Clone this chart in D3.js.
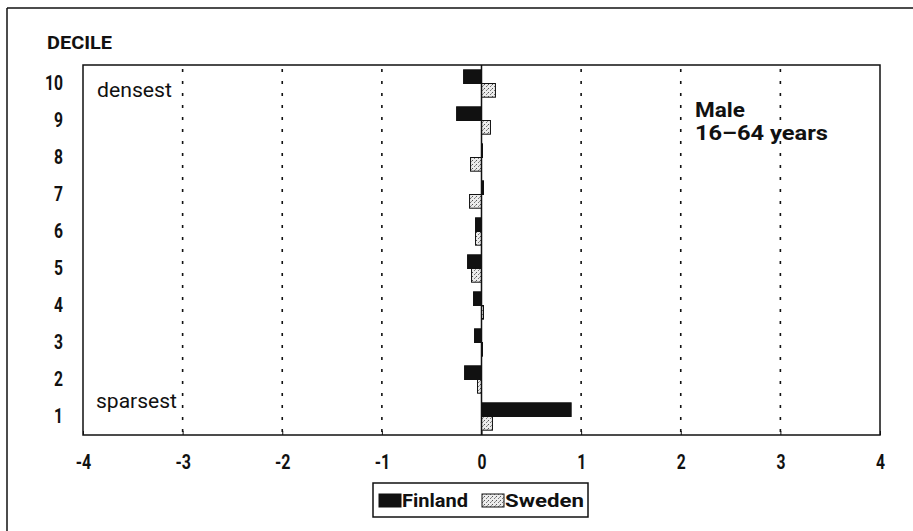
<!DOCTYPE html>
<html>
<head>
<meta charset="utf-8">
<script src="https://cdn.jsdelivr.net/npm/d3@7"></script>
<style>
  html, body { margin: 0; padding: 0; background: #fff; }
  svg { display: block; }
  text { font-family: Roboto, "Liberation Sans", sans-serif; fill: #111; }
</style>
</head>
<body>
<svg id="chart" width="913" height="531"></svg>
<script>
const deciles = ["10", "9", "8", "7", "6", "5", "4", "3", "2", "1"];
const finland = [-0.18, -0.25, 0.01, 0.02, -0.06, -0.14, -0.08, -0.07, -0.17, 0.90];
const sweden  = [0.14, 0.09, -0.11, -0.12, -0.06, -0.10, 0.02, 0.01, -0.04, 0.11];
const seriesNames = ["Finland", "Sweden"];
const xTicks = [-4, -3, -2, -1, 0, 1, 2, 3, 4];
const gridTicks = [-3, -2, -1, 1, 2, 3];

const svg = d3.select("#chart");
const m = { left: 83, right: 880, top: 65, bottom: 435 };
const FONT = "Roboto, 'Liberation Sans', sans-serif";

// narrow-look width for numeric labels
const numLen = s => [...s].reduce((a, c) => a + (c === "-" ? 6.5 : 9), 0);

// pattern for Sweden
const defs = svg.append("defs");
const pat = defs.append("pattern").attr("id", "speckle").attr("patternUnits", "userSpaceOnUse")
  .attr("width", 4).attr("height", 4);
pat.append("rect").attr("width", 4).attr("height", 4).attr("fill", "#ececec");
pat.append("rect").attr("x", 0).attr("y", 0).attr("width", 1).attr("height", 1).attr("fill", "#555");
pat.append("rect").attr("x", 2).attr("y", 2).attr("width", 1).attr("height", 1).attr("fill", "#777");
pat.append("rect").attr("x", 3).attr("y", 1).attr("width", 1).attr("height", 1).attr("fill", "#999");

// outer frame (top and left visible)
svg.append("line").attr("x1", 7).attr("x2", 913).attr("y1", 8).attr("y2", 8).attr("stroke", "#111").attr("stroke-width", 1.5);
svg.append("line").attr("x1", 7).attr("x2", 7).attr("y1", 8).attr("y2", 531).attr("stroke", "#111").attr("stroke-width", 1.5);

const x = d3.scaleLinear().domain([-4, 4]).range([m.left, m.right]);
const y = d3.scaleBand().domain(deciles).range([m.top, m.bottom]).paddingInner(0.26).paddingOuter(0.13);
const ySub = d3.scaleBand().domain(seriesNames).range([0, y.bandwidth()]);

// grid lines
svg.append("g").selectAll("line").data(gridTicks).join("line")
  .attr("x1", d => x(d)).attr("x2", d => x(d))
  .attr("y1", m.top + 4).attr("y2", m.bottom)
  .attr("stroke", "#111").attr("stroke-width", 1.6).attr("stroke-dasharray", "3,9");

// plot frame
svg.append("rect").attr("x", m.left).attr("y", m.top).attr("width", m.right - m.left).attr("height", m.bottom - m.top)
  .attr("fill", "none").attr("stroke", "#111").attr("stroke-width", 1.5);

// bars
const rows = deciles.map((d, i) => ({ d, vals: [finland[i], sweden[i]] }));
const g = svg.append("g");
rows.forEach(r => {
  r.vals.forEach((v, j) => {
    const s = seriesNames[j];
    g.append("rect")
      .attr("x", x(Math.min(0, v)))
      .attr("y", y(r.d) + ySub(s))
      .attr("width", Math.max(1, Math.abs(x(v) - x(0))))
      .attr("height", ySub.bandwidth())
      .attr("fill", j === 0 ? "#111" : "url(#speckle)")
      .attr("stroke", "#111").attr("stroke-width", 1);
  });
});

// zero line
svg.append("line").attr("x1", x(0)).attr("x2", x(0)).attr("y1", m.top).attr("y2", m.bottom)
  .attr("stroke", "#111").attr("stroke-width", 1.5);

// x axis
const xAxis = svg.append("g").attr("transform", `translate(0,${m.bottom})`)
  .call(d3.axisBottom(x).tickValues(xTicks).tickSize(-4).tickPadding(20).tickFormat(d => String(d)));
xAxis.attr("font-size", 20).attr("font-family", FONT).attr("font-weight", "bold");
xAxis.select(".domain").remove();
xAxis.selectAll("line").attr("stroke", "#111");
xAxis.selectAll("text").attr("font-size", 20).style("font-size", "20px").style("font-weight", "bold")
  .attr("fill", "#111")
  .attr("textLength", d => numLen(String(d))).attr("lengthAdjust", "spacingAndGlyphs");

// y axis labels
const yAxis = svg.append("g").attr("transform", `translate(${m.left},0)`)
  .call(d3.axisLeft(y).tickSize(0).tickPadding(20));
yAxis.attr("font-size", 20).attr("font-family", FONT).attr("font-weight", "bold");
yAxis.select(".domain").remove();
yAxis.selectAll(".tick text").attr("font-size", 20)
  .style("font-size", "20px").style("font-weight", "bold")
  .attr("fill", "#111")
  .attr("textLength", d => numLen(d)).attr("lengthAdjust", "spacingAndGlyphs");

// labels
function label(txt, xx, yy, size, weight, len) {
  svg.append("text").attr("x", xx).attr("y", yy).text(txt)
    .style("font-size", size + "px").style("font-weight", weight)
    .attr("textLength", len).attr("lengthAdjust", "spacingAndGlyphs");
}
label("DECILE", 47, 49, 19, "bold", 65);
label("densest", 97, 97, 20, 400, 75);
label("sparsest", 96, 408, 20, 400, 81);
label("Male", 695, 117, 20, "bold", 50);
label("16\u201364 years", 695, 140, 20, "bold", 133);

// legend
const lg = svg.append("g");
lg.append("rect").attr("x", 373).attr("y", 483).attr("width", 215).attr("height", 34)
  .attr("fill", "#fff").attr("stroke", "#111").attr("stroke-width", 1.5);
const lx = [379, 482];
const lw = [66, 79];
seriesNames.forEach((s, j) => {
  lg.append("rect").attr("x", lx[j]).attr("y", 494).attr("width", 22).attr("height", 13)
    .attr("fill", j === 0 ? "#111" : "url(#speckle)").attr("stroke", "#111").attr("stroke-width", 1);
  lg.append("text").attr("x", lx[j] + 23).attr("y", 507).text(s)
    .style("font-size", "19px").style("font-weight", "bold")
    .attr("textLength", lw[j]).attr("lengthAdjust", "spacingAndGlyphs");
});
</script>
</body>
</html>
